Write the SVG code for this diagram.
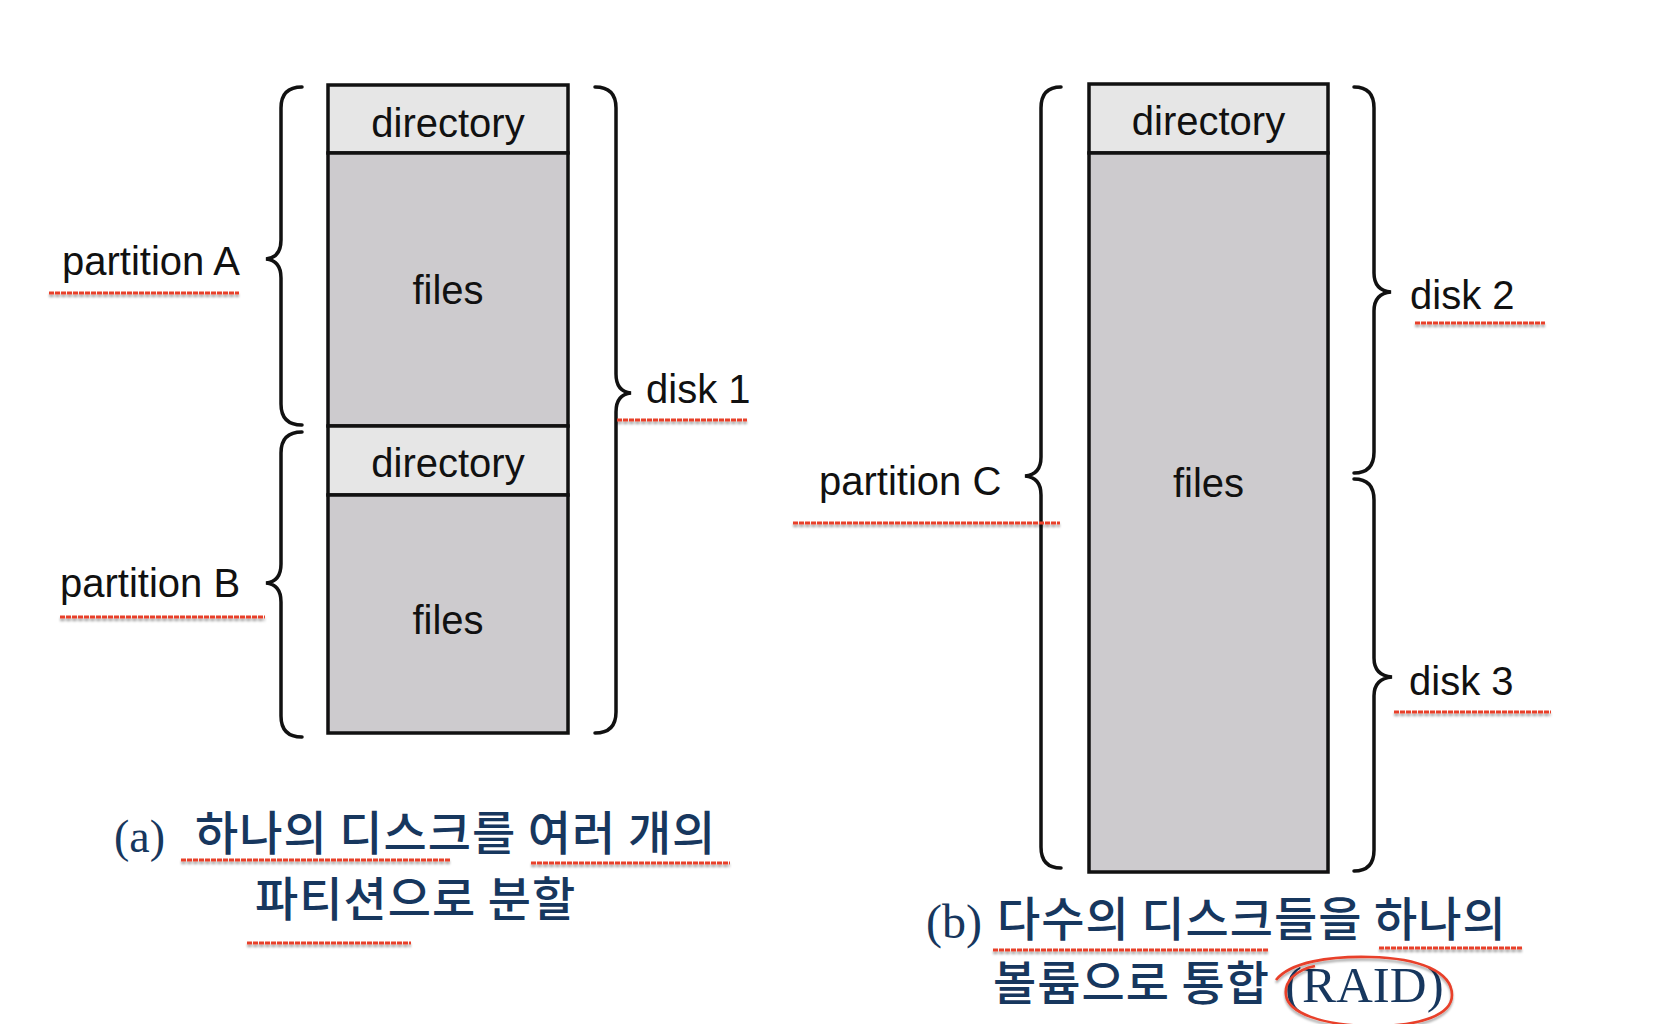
<svg xmlns="http://www.w3.org/2000/svg" width="1666" height="1024" viewBox="0 0 1666 1024">
<style>
.box{stroke:#111;stroke-width:3.5}
.dir{fill:#e6e6e6}
.fil{fill:#cdcbce}
.lbl{font-family:"Liberation Sans",Arial,sans-serif;font-size:40px;fill:#111}
.mid{text-anchor:middle}
.brace{fill:none;stroke:#111;stroke-width:3.5;stroke-linecap:round}
.ul{fill:none;stroke:#e8402a;stroke-width:3;stroke-dasharray:5 1}
.kr{font-family:"Noto Sans CJK KR","Noto Sans",sans-serif;font-size:47px;font-weight:500;letter-spacing:1px;fill:#17375e}
.tm{font-family:"Liberation Serif","Times New Roman",serif;fill:#17375e}
</style>
<defs>
<filter id="sh" filterUnits="userSpaceOnUse" x="0" y="0" width="1666" height="1024">
<feDropShadow dx="0" dy="2.5" stdDeviation="1.2" flood-color="#000" flood-opacity="0.35"/>
</filter>
</defs>
<rect width="1666" height="1024" fill="#fff"/>

<g id="diskA">
<rect class="box dir" x="328" y="85" width="240" height="68"/>
<rect class="box fil" x="328" y="153" width="240" height="273"/>
<rect class="box dir" x="328" y="426" width="240" height="69"/>
<rect class="box fil" x="328" y="495" width="240" height="238"/>
<text class="lbl mid" x="448" y="137">directory</text>
<text class="lbl mid" x="448" y="304">files</text>
<text class="lbl mid" x="448" y="477">directory</text>
<text class="lbl mid" x="448" y="634">files</text>
</g>

<g id="diskC">
<rect class="box dir" x="1089" y="84" width="239" height="69"/>
<rect class="box fil" x="1089" y="153" width="239" height="719"/>
<text class="lbl mid" x="1208.5" y="135">directory</text>
<text class="lbl mid" x="1208.5" y="497">files</text>
</g>

<g id="connectors">
<path class="brace" d="M302,87 C288,87 281,94 281,108 L281,240 C281,252 276,258 266,259 C276,260 281,266 281,278 L281,404 C281,418 288,425 302,425"/>
<path class="brace" d="M302,432 C288,432 281,439 281,453 L281,564 C281,576 276,582 266,583 C276,584 281,590 281,602 L281,716 C281,730 288,737 302,737"/>
<path class="brace" d="M595,87 C609,87 616,94 616,108 L616,374 C616,386 621,392 631,393 C621,394 616,400 616,412 L616,712 C616,726 609,733 595,733"/>
<path class="brace" d="M1061,87 C1048,87 1041,94 1041,108 L1041,457 C1041,469 1036,475 1025,476 C1036,477 1041,483 1041,495 L1041,847 C1041,861 1048,868 1061,868"/>
<path class="brace" d="M1354,87 C1367,87 1374,94 1374,108 L1374,273 C1374,285 1380,291 1391,292 C1380,293 1374,299 1374,311 L1374,452 C1374,466 1367,473 1354,473"/>
<path class="brace" d="M1354,479 C1367,479 1374,486 1374,500 L1374,658 C1374,670 1380,676 1392,677 C1380,678 1374,684 1374,696 L1374,850 C1374,864 1367,871 1354,871"/>
</g>

<g id="labelPartA"><text class="lbl" x="62" y="275">partition A</text></g>
<g id="labelPartB"><text class="lbl" x="60" y="597">partition B</text></g>
<g id="labelDisk1"><text class="lbl" x="646" y="403">disk 1</text></g>
<g id="labelPartC"><text class="lbl" x="819" y="495">partition C</text></g>
<g id="labelDisk2"><text class="lbl" x="1410" y="309">disk 2</text></g>
<g id="labelDisk3"><text class="lbl" x="1409" y="695">disk 3</text></g>

<g id="captionA">
<text class="tm" x="114" y="852" font-size="46">(a)</text>
<text class="kr" x="195" y="850">하나의 디스크를 여러 개의</text>
<text class="kr" x="255" y="916">파티션으로 분할</text>
</g>

<g id="captionB">
<text class="tm" x="926" y="938" font-size="48">(b)</text>
<text class="kr" x="997" y="936">다수의 디스크들을 하나의</text>
<text class="kr" x="993" y="1000">볼륨으로 통합</text>
<text class="tm" x="1285" y="1002" font-size="51">(RAID)</text>
</g>

<g id="annotations" filter="url(#sh)">
<path class="ul" d="M49,293 H239"/>
<path class="ul" d="M60,617 H265"/>
<path class="ul" d="M617,420 H747"/>
<path class="ul" d="M793,523 H1060"/>
<path class="ul" d="M1415,323 H1545"/>
<path class="ul" d="M1394,712 H1551"/>
<path class="ul" d="M181,860 H450"/>
<path class="ul" d="M531,863 H730"/>
<path class="ul" d="M247,943 H411"/>
<path class="ul" d="M993,950 H1269"/>
<path class="ul" d="M1379,948 H1522"/>
<path fill="none" stroke="#e8402a" stroke-width="2.6" d="M1276,980 C1290,962 1330,956 1370,957 C1420,958 1452,972 1452,995 C1452,1015 1420,1026 1375,1026 C1320,1026 1288,1012 1286,995 C1284,982 1295,970 1315,966"/>
</g>
</svg>
